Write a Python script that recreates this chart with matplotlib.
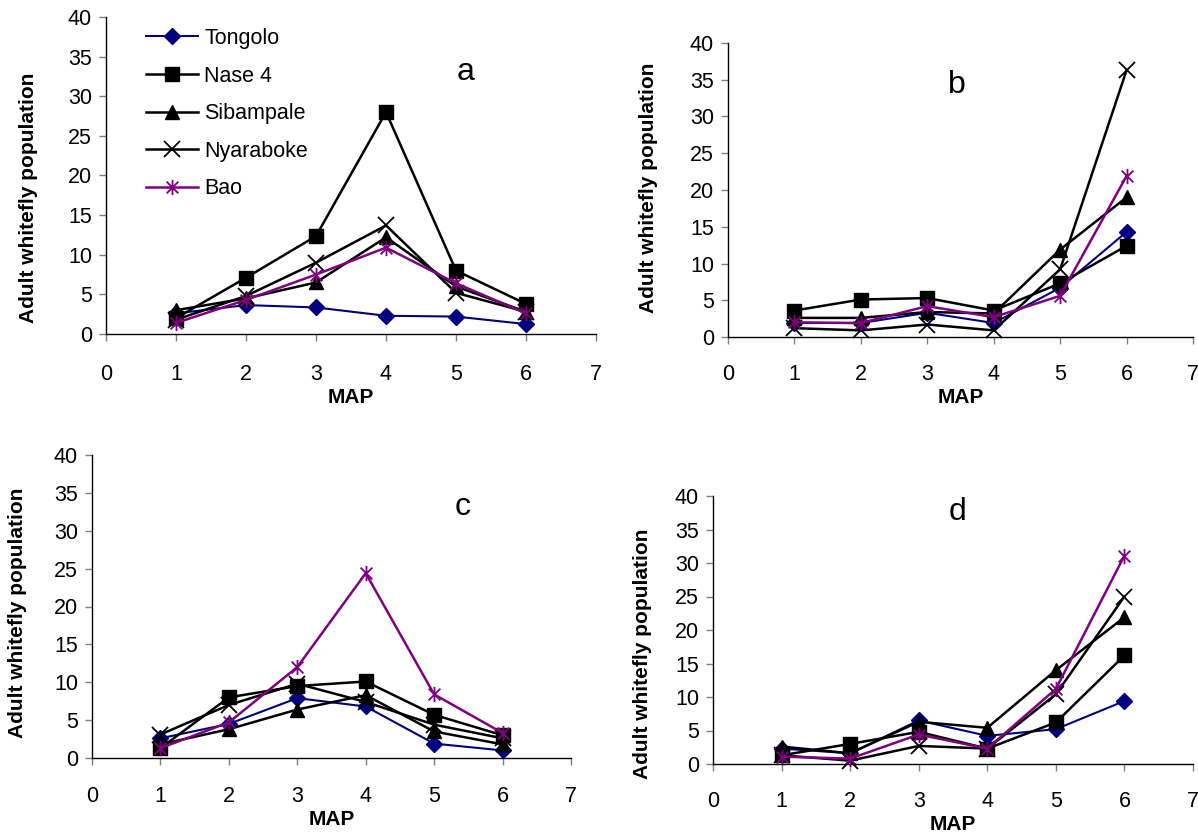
import matplotlib
matplotlib.use("Agg")
import matplotlib.pyplot as plt
from matplotlib.path import Path

plt.rcParams['font.family'] = ['Liberation Sans', 'DejaVu Sans']

# Days after planting (MAP) and the cassava varieties
map_x = [1, 2, 3, 4, 5, 6]
varieties = ['Tongolo', 'Nase 4', 'Sibampale', 'Nyaraboke', 'Bao']

# Panel a
a_tongolo = [2.6, 3.65, 3.35, 2.3, 2.2, 1.25]
a_nase4 = [2.0, 7.1, 12.35, 28.0, 8.0, 3.8]
a_sibampale = [3.0, 4.5, 6.5, 12.2, 6.0, 2.8]
a_nyaraboke = [1.8, 4.8, 9.0, 13.7, 5.2, 2.8]
a_bao = [1.4, 4.3, 7.5, 10.9, 6.4, 2.6]

# Panel b
b_tongolo = [1.9, 1.9, 3.3, 1.9, 6.7, 14.3]
b_nase4 = [3.6, 5.1, 5.3, 3.6, 7.3, 12.4]
b_sibampale = [2.6, 2.6, 3.4, 3.2, 11.9, 19.0]
b_nyaraboke = [1.2, 0.9, 1.7, 0.9, 9.2, 36.3]
b_bao = [2.0, 1.9, 4.2, 2.7, 5.6, 21.9]

# Panel c
c_tongolo = [2.6, 4.5, 7.9, 6.8, 1.9, 1.0]
c_nase4 = [1.3, 8.0, 9.5, 10.1, 5.7, 3.0]
c_sibampale = [1.8, 3.8, 6.4, 8.3, 3.5, 1.8]
c_nyaraboke = [3.1, 7.0, 9.8, 7.4, 4.4, 2.6]
c_bao = [1.3, 4.7, 12.0, 24.4, 8.4, 3.3]

# Panel d
d_tongolo = [2.3, 1.6, 6.5, 4.2, 5.2, 9.4]
d_nase4 = [1.3, 3.0, 4.8, 2.3, 6.2, 16.2]
d_sibampale = [2.6, 1.6, 6.3, 5.4, 14.0, 21.9]
d_nyaraboke = [1.3, 0.5, 2.7, 2.3, 10.4, 25.0]
d_bao = [1.1, 0.8, 4.4, 2.3, 11.2, 31.1]

paneles = {
    'a': [a_tongolo, a_nase4, a_sibampale, a_nyaraboke, a_bao],
    'b': [b_tongolo, b_nase4, b_sibampale, b_nyaraboke, b_bao],
    'c': [c_tongolo, c_nase4, c_sibampale, c_nyaraboke, c_bao],
    'd': [d_tongolo, d_nase4, d_sibampale, d_nyaraboke, d_bao],
}

# asterisco tipo Excel: una x con una barra vertical
asterisco = Path([(-1, -1), (1, 1), (-1, 1), (1, -1), (0, -1.3), (0, 1.3)],
                 [Path.MOVETO, Path.LINETO, Path.MOVETO, Path.LINETO, Path.MOVETO, Path.LINETO])

estilos = [
    dict(color='#000080', marker='D', markersize=8, lw=1.5),
    dict(color='black', marker='s', markersize=10, lw=1.8),
    dict(color='black', marker='^', markersize=10, lw=1.8),
    dict(color='black', marker='x', markersize=11, mew=1.3, lw=1.8),
    dict(color='#800080', marker=asterisco, markersize=11, mew=1.3, lw=1.8),
]

# posiciones de cada panel en pixeles: (izq, der, y40, y0)
W, H = 1198, 840
cajas = {
    'a': (106, 596, 17, 334),
    'b': (728, 1193, 43, 337),
    'c': (92, 571, 455, 758),
    'd': (713, 1193, 496, 764),
}
letras = {'a': (5.13, 33.1), 'b': (3.45, 34.3), 'c': (5.42, 33.1), 'd': (3.56, 37.6)}
ylabel_y = {'a': 0.43, 'b': 0.507, 'c': 0.478, 'd': 0.41}
ylabel_x = {'a': 38, 'b': 658, 'c': 27, 'd': 652}
pad_x = {'a': 16.5, 'b': 14.5, 'c': 15, 'd': 14.5}

fig = plt.figure(figsize=(W / 100, H / 100), dpi=100)

for clave, series in paneles.items():
    izq, der, y40, y0 = cajas[clave]
    ax = fig.add_axes([izq / W, 1 - y0 / H, (der - izq) / W, (y0 - y40) / H])
    for nombre, valores, est in zip(varieties, series, estilos):
        ax.plot(map_x, valores, label=nombre, clip_on=False, **est)

    ax.set_xlim(0, 7)
    ax.set_ylim(0, 40)
    ax.set_xticks(range(0, 8))
    ax.set_yticks(range(0, 41, 5))
    for lado in ['top', 'right']:
        ax.spines[lado].set_visible(False)
    for lado in ['left', 'bottom']:
        ax.spines[lado].set_linewidth(1.0)
    ax.tick_params(axis='x', direction='out', length=5, width=1, color='#808080',
                   labelsize=15.5, pad=pad_x[clave])
    ax.tick_params(axis='y', direction='out', length=5, width=1, color='#808080',
                   labelsize=15.5, pad=5)
    ax.set_xlabel('MAP', fontsize=15, fontweight='bold', labelpad=2)
    ax.set_ylabel('Adult whitefly population', fontsize=15, fontweight='bold')
    ax.yaxis.set_label_coords((ylabel_x[clave] - izq) / (der - izq), ylabel_y[clave])

    lx, ly = letras[clave]
    ax.text(lx, ly, clave, fontsize=23, ha='center', va='center')

    if clave == 'a':
        ax.legend(loc='upper left', bbox_to_anchor=(146 / W, 1 - 28 / H),
                  bbox_transform=fig.transFigure, frameon=False, fontsize=15.5,
                  handlelength=2.4, handletextpad=0.3, labelspacing=0.77,
                  borderpad=0, borderaxespad=0)

fig.savefig('out.png', dpi=100)
